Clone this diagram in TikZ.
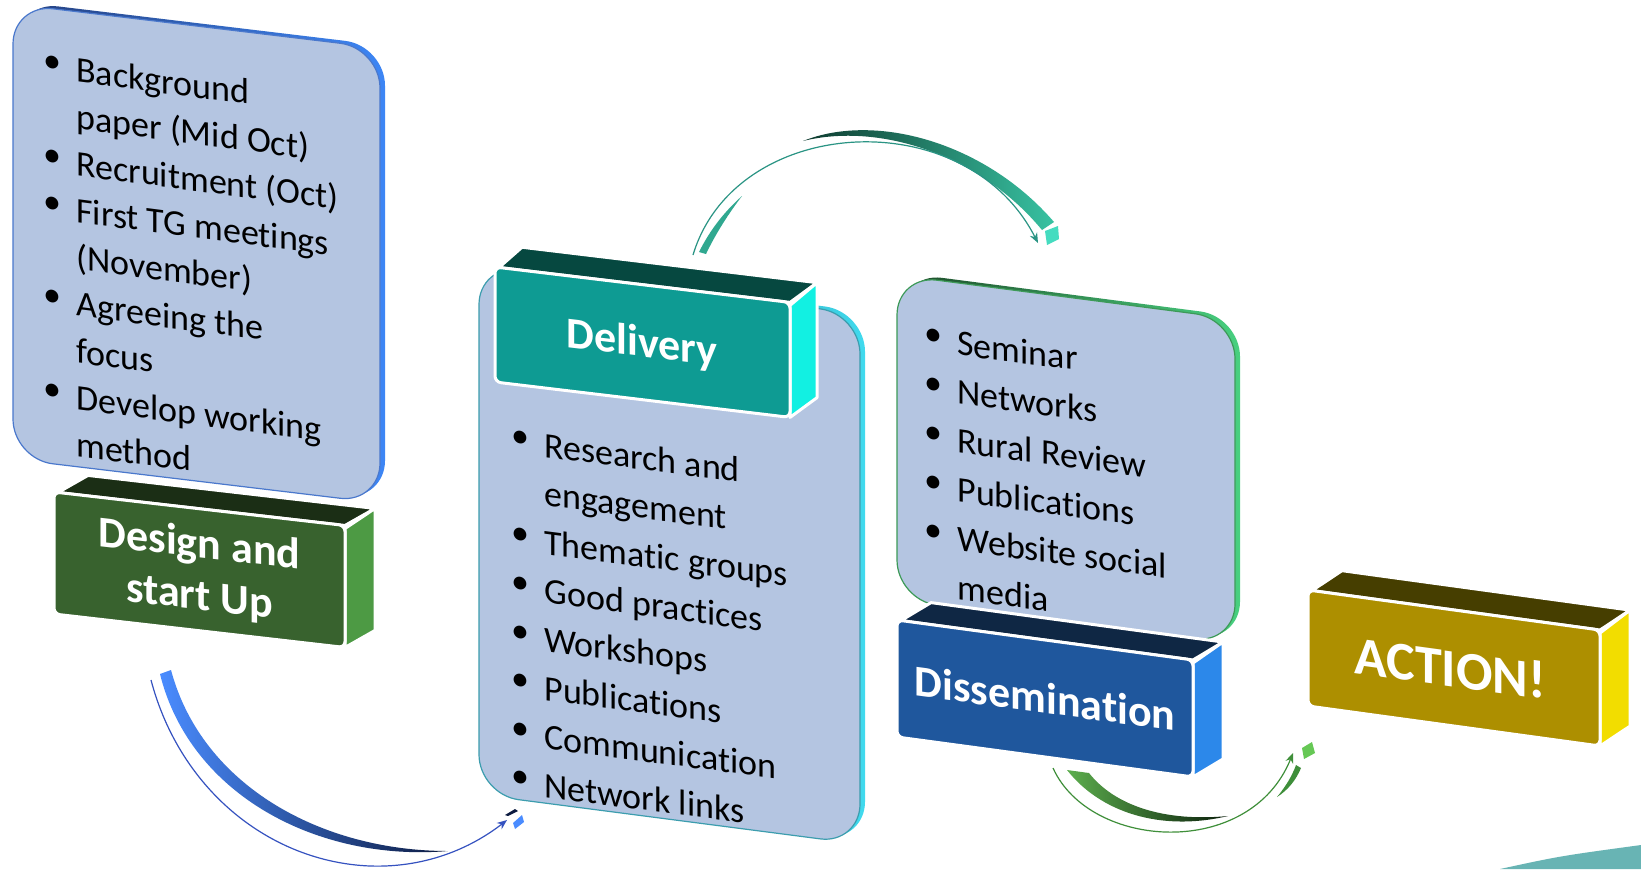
\documentclass[tikz,border=0pt]{standalone}
\usepackage{fontspec}
\setmainfont{Carlito}[Ligatures=NoCommon]
\usetikzlibrary{arrows.meta}
\definecolor{listfill}{HTML}{B4C5E1}
\definecolor{lbA}{HTML}{25407F}\definecolor{lbB}{HTML}{3D86F5}\definecolor{lbline}{HTML}{4A78CC}
\definecolor{dlA}{HTML}{1C5E68}\definecolor{dlB}{HTML}{40DAEE}\definecolor{dlline}{HTML}{3C9DAE}
\definecolor{slA}{HTML}{1D4A28}\definecolor{slB}{HTML}{48D080}\definecolor{slline}{HTML}{3D9A58}
\definecolor{gFront}{HTML}{38622E}\definecolor{gTop}{HTML}{1B2E15}\definecolor{gSide}{HTML}{4D9A44}
\definecolor{tFront}{HTML}{0E9B93}\definecolor{tTop}{HTML}{064840}\definecolor{tSide}{HTML}{12F0E2}
\definecolor{bFront}{HTML}{1F579D}\definecolor{bTop}{HTML}{0F2744}\definecolor{bSide}{HTML}{2C88EA}
\definecolor{aFront}{HTML}{AD8F00}\definecolor{aTop}{HTML}{463E00}\definecolor{aSide}{HTML}{F2DD00}
\definecolor{blueA}{HTML}{4A8CFF}\definecolor{blueB}{HTML}{0C1A40}\definecolor{bluethinc}{HTML}{3552C0}
\definecolor{tealA}{HTML}{0E3A2E}\definecolor{tealB}{HTML}{38C2A2}\definecolor{tealthinc}{HTML}{2A9484}
\definecolor{tealC}{HTML}{30A890}\definecolor{tealD}{HTML}{45DCC0}
\definecolor{greenA}{HTML}{5CAE4E}\definecolor{greenB}{HTML}{0C200C}\definecolor{greenthinc}{HTML}{3F8F3A}
\definecolor{greenC}{HTML}{3E8E3A}\definecolor{greenD}{HTML}{66C855}
\definecolor{wedgec}{HTML}{68B4B4}
\newcommand{\lbul}{\makebox[10pt][c]{\raisebox{3pt}{\textbullet}}\hspace{7pt}}
\newcommand{\lind}{\hspace{17pt}}
\begin{document}
\begin{tikzpicture}[x=0.5pt,y=-0.5pt,
  listtext/.style={anchor=base west, inner sep=0pt, transform shape, text=black},
  labeltext/.style={inner sep=0pt, transform shape, align=center, text=white, font=\bfseries\fontsize{22}{26}\selectfont},
  faceline/.style={draw=white, line width=1.5pt, line join=round},
  thinarc/.style={line width=0.6pt, -{Stealth[length=5pt, width=4pt]}}
]
\fill[white] (0,0) rectangle (1641,869);
\useasboundingbox (0,0) rectangle (1641,869);

% ---------- Start-up list box
\begin{scope}[shift={(13,4)}, yslant=-0.12]
  \shade[left color=lbA, right color=lbB, rounded corners=20pt] (5,-3) rectangle (372,452);
  \filldraw[fill=listfill, draw=lbline, line width=0.6pt, rounded corners=20pt] (0,0) rectangle (367,455);
  \node[listtext, yslant=-0.01, font=\fontsize{18}{23.4}\selectfont] (startlist) at (29,70) {\begin{tabular}[t]{@{}l@{}}
    \lbul Background\\ \lind paper (Mid Oct)\\ \lbul Recruitment (Oct)\\ \lbul First TG meetings\\
    \lind (November)\\ \lbul Agreeing the\\ \lind focus\\ \lbul Develop working\\ \lind method
  \end{tabular}};
\end{scope}

% ---------- Design and start Up
\begin{scope}[shift={(54,492)}, yslant=-0.115]
  \path[fill=gTop, faceline] (4,0) -- (291,0) -- (321,-20.5) -- (34,-20.5) -- cycle;
  \path[fill=gSide, faceline] (291,3) -- (321,-20.5) -- (321,101.5) -- (291,122) -- cycle;
  \path[fill=gFront, faceline, rounded corners=3pt] (0,0) rectangle (291,122);
  \node[labeltext] (design) at (145.5,63) {Design and\\start Up};
\end{scope}

% ---------- Delivery list box
\begin{scope}[shift={(479,264.5)}, yslant=-0.13]
  \shade[left color=dlA, right color=dlB, rounded corners=20pt] (5,-3) rectangle (386,527);
  \filldraw[fill=listfill, draw=dlline, line width=0.6pt, rounded corners=20pt] (0,0) rectangle (381,530);
  \node[listtext, font=\fontsize{18}{24.3}\selectfont] (deliverylist) at (31,184) {\begin{tabular}[t]{@{}l@{}}
    \lbul Research and\\ \lind engagement\\ \lbul Thematic groups\\ \lbul Good practices\\
    \lbul Workshops\\ \lbul Publications\\ \lbul Communication\\ \lbul Network links
  \end{tabular}};
\end{scope}

% ---------- Delivery label
\begin{scope}[shift={(495,267)}, yslant=-0.12]
  \path[fill=tTop, faceline] (4,0) -- (295,0) -- (322,-23) -- (27,-23) -- cycle;
  \path[fill=tSide, faceline] (295,3) -- (322,-23) -- (322,92) -- (295,115) -- cycle;
  \path[fill=tFront, faceline, rounded corners=3pt] (0,0) rectangle (295,115);
  \node[labeltext] (delivery) at (147,60) {Delivery};
\end{scope}

% ---------- blue connector
\coordinate (ba) at (151,680);
\coordinate (bb) at (370,866);
\coordinate (bc) at (507,820);
\shade[left color=blueA, right color=blueB] (160,674) .. controls (190,795) and (318,862) .. (448,851)
   .. controls (322,851) and (202,786) .. (171,670) -- cycle;
\draw[thinarc, bluethinc] (ba) .. controls (180,790) and (270,862) .. (bb) .. controls (430,868) and (475,845) .. (bc);
\fill[blueB] (505,815) -- (515,809) -- (518,811) -- (508,816) -- cycle;
\fill[blueA] (513,823) -- (522,815) -- (524,822) -- (515,829) -- cycle;

% ---------- teal connector
\coordinate (ta) at (693,255);
\coordinate (tb) at (1038,243);
\fill[tealC] (699,252) .. controls (710,230) and (724,212) .. (742,196) .. controls (729,213) and (716,233) .. (706,254) -- cycle;
\shade[left color=tealA, right color=tealB] (803,141) .. controls (875,112) and (985,142) .. (1054,222)
   -- (1042,230) .. controls (980,155) and (880,122) .. (803,141) -- cycle;
\draw[thinarc, tealthinc] (ta) .. controls (735,115) and (965,100) .. (tb);
\fill[tealD] (1045,231) -- (1058,226) -- (1059,239) -- (1047,245) -- cycle;

% ---------- Dissemination list box
\begin{scope}[shift={(897,275)}, yslant=-0.13]
  \shade[left color=slA, right color=slB, rounded corners=20pt] (5,-3) rectangle (343,322);
  \filldraw[fill=listfill, draw=slline, line width=0.6pt, rounded corners=20pt] (0,0) rectangle (338,325);
  \node[listtext, font=\fontsize{18}{24.5}\selectfont] (dissemlist) at (26,72) {\begin{tabular}[t]{@{}l@{}}
    \lbul Seminar\\ \lbul Networks\\ \lbul Rural Review\\ \lbul Publications\\
    \lbul Website social\\ \lind media
  \end{tabular}};
\end{scope}

% ---------- Dissemination label
\begin{scope}[shift={(897,620)}, yslant=-0.135]
  \path[fill=bTop, faceline] (4,0) -- (296,0) -- (326,-22) -- (34,-22) -- cycle;
  \path[fill=bSide, faceline] (296,3) -- (326,-22) -- (326,95) -- (296,117) -- cycle;
  \path[fill=bFront, faceline, rounded corners=3pt] (0,0) rectangle (296,117);
  \node[labeltext] (dissem) at (148,58) {Dissemination};
\end{scope}

% ---------- green connector
\coordinate (ga) at (1053,768);
\coordinate (gb) at (1293,753);
\shade[left color=greenA, right color=greenB] (1067,770) .. controls (1100,812) and (1160,832) .. (1228,816)
   .. controls (1165,822) and (1115,806) .. (1089,773) -- cycle;
\fill[greenC] (1277,797) .. controls (1286,786) and (1292,776) .. (1296,765) -- (1301,768)
   .. controls (1296,780) and (1288,790) .. (1277,797) -- cycle;
\draw[thinarc, greenthinc] (ga) .. controls (1090,850) and (1250,860) .. (gb);
\fill[greenD] (1302,748) -- (1312,742) -- (1315,753) -- (1304,759) -- cycle;

% ---------- ACTION!
\begin{scope}[shift={(1308,590)}, yslant=-0.137]
  \path[fill=aTop, faceline] (4,0) -- (292,0) -- (322,-24) -- (34,-24) -- cycle;
  \path[fill=aSide, faceline] (292,3) -- (322,-24) -- (322,92) -- (292,116) -- cycle;
  \path[fill=aFront, faceline, rounded corners=3pt] (0,0) rectangle (292,116);
  \node[labeltext, font=\bfseries\fontsize{27}{30}\selectfont] (action) at (142,58.5) {ACTION!};
\end{scope}

% ---------- next arrow fragment
\fill[wedgec] (1500,869) .. controls (1560,856) .. (1641,845) -- (1641,869) -- cycle;
\end{tikzpicture}
\end{document}
